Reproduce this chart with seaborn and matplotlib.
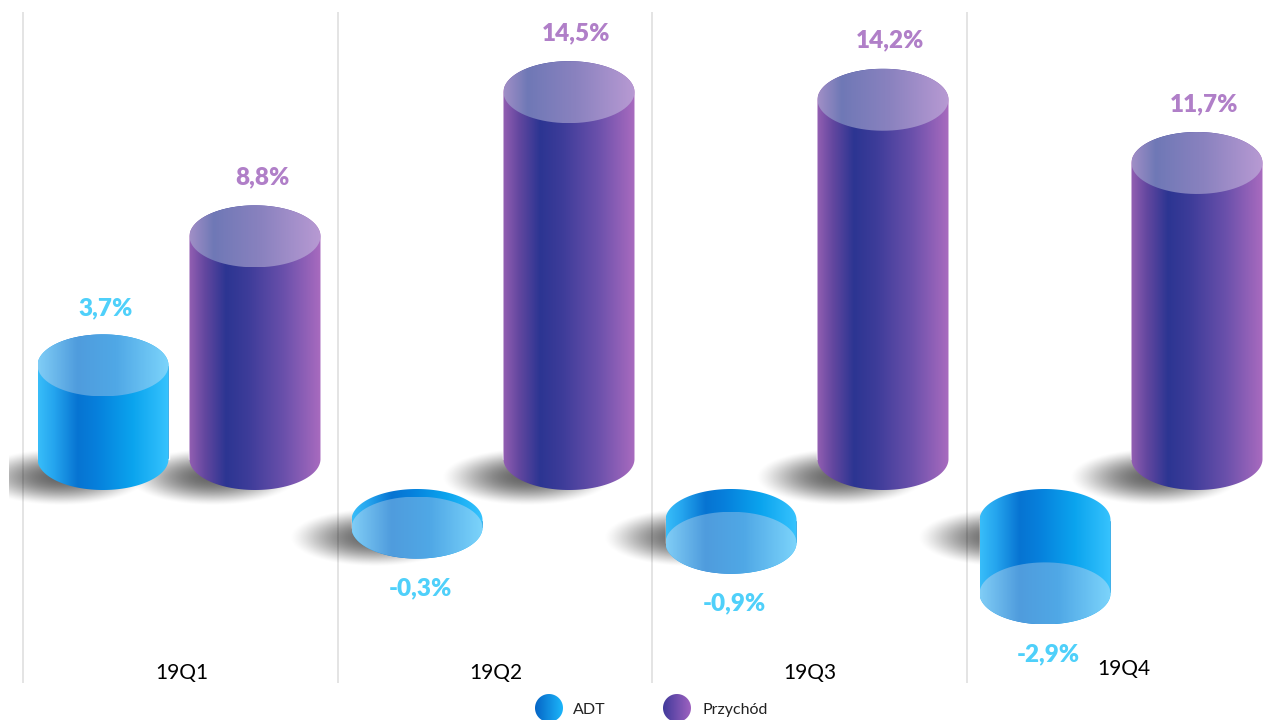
import numpy as np
import pandas as pd
import matplotlib
matplotlib.use('Agg')
import matplotlib.pyplot as plt
import seaborn as sns
from matplotlib.colors import LinearSegmentedColormap
from matplotlib.patches import Polygon

quarters = ['19Q1', '19Q2', '19Q3', '19Q4']
adt = [3.7, -0.3, -0.9, -2.9]
revenue = [8.8, 14.5, 14.2, 11.7]
series_names = ['ADT', 'Przychód']

df = pd.DataFrame({
    'quarter': quarters * 2,
    'series': [series_names[0]] * 4 + [series_names[1]] * 4,
    'value': adt + revenue,
})

# pixel scale of the picture: 314 px per quarter, 25.3 px per percentage point
PX_X = 1 / 314
PX_Y = 1 / 25.3
XMIN, XMAX = -179 * PX_X, (1271 - 179) * PX_X
YMIN, YMAX = -261 * PX_Y, 459 * PX_Y
CAP_RY = 31 * PX_Y
NEG_SHIFT = -61 * PX_Y  # negative cylinders hang lower than the positive ones

sns.set_theme(style='white')
plt.rcParams['font.family'] = ['Lato', 'DejaVu Sans']

body_cmaps = {
    'ADT': [(0, '#38bdf9'), (0.12, '#25a5ee'), (0.3, '#0774d2'), (0.45, '#0680dc'),
            (0.72, '#0ba4ee'), (1, '#38c4fe')],
    'Przychód': [(0, '#935fb2'), (0.12, '#63479f'), (0.28, '#2c3592'), (0.45, '#3d3c99'),
                 (0.72, '#6a50ab'), (1, '#a96bbf')],
}
cap_cmaps = {
    'ADT': [(0, '#80cdf6'), (0.3, '#4f9cdd'), (0.6, '#50a8e6'), (1, '#7cd4fb')],
    'Przychód': [(0, '#a08fc6'), (0.18, '#6f78b6'), (0.55, '#8a82bf'), (1, '#b89ad3')],
}
dot_cmaps = {
    'ADT': [(0, '#0565c6'), (1, '#1cb6fa')],
    'Przychód': [(0, '#413a9b'), (1, '#9e62c0')],
}
label_colors = {'ADT': '#4fd0fa', 'Przychód': '#b07fc8'}

fig = plt.figure(figsize=(12.71, 7.2), dpi=100)
ax = fig.add_axes([0, 0, 1, 1])

sns.barplot(
    data=df, x='quarter', y='value', hue='series', order=quarters, hue_order=series_names,
    palette={'ADT': '#0a8fe6', 'Przychód': '#4a439f'},
    width=0.968, gap=0.138, legend=False, ax=ax, zorder=3, errorbar=None,
)


def fill_gradient(points, stops, zorder):
    cmap = LinearSegmentedColormap.from_list('grad', stops)
    patch = Polygon(points, closed=True, facecolor='none', edgecolor='none', zorder=zorder)
    ax.add_patch(patch)
    x0, x1 = points[:, 0].min(), points[:, 0].max()
    y0, y1 = points[:, 1].min(), points[:, 1].max()
    im = ax.imshow(np.linspace(0, 1, 256).reshape(1, -1), extent=[x0, x1, y0, y1],
                   aspect='auto', cmap=cmap, zorder=zorder, interpolation='bilinear')
    im.set_clip_path(patch)


def arc(xc, rx, yc, ry, start, stop):
    t = np.linspace(start, stop, 80)
    return np.column_stack([xc + rx * np.cos(t), yc + ry * np.sin(t)])


def add_shadow(xc, rx, base):
    # soft grey smudge that sits left of and below the foot of the cylinder
    sx = xc - 42 * PX_X
    sy = base - 18 * PX_Y
    srx, sry = 86 * PX_X, 29 * PX_Y
    left = max(sx - srx, XMIN + 9 * PX_X)
    top = sy + sry
    xs = np.linspace(left, sx + srx, 200)
    ys = np.linspace(top, sy - sry, 80)
    gx, gy = np.meshgrid(xs, ys)
    d = np.clip(((gx - sx) / srx) ** 2 + ((gy - sy) / sry) ** 2, 0, 1)
    rgba = np.zeros(gx.shape + (4,))
    rgba[..., 3] = 0.6 * (1 - d) ** 1.5
    ax.imshow(rgba, extent=[left, sx + srx, sy - sry, top], origin='upper',
              aspect='auto', zorder=1, interpolation='bilinear')


for name, container, vals in zip(series_names, ax.containers, [adt, revenue]):
    for bar, val in zip(container, vals):
        rx = bar.get_width() / 2
        xc = bar.get_x() + rx
        base = NEG_SHIFT if val < 0 else 0
        if val < 0:
            bar.set_y(base)
        end = base + val
        add_shadow(xc, rx, base)

        upper, lower = max(base, end), min(base, end)
        outline = np.vstack([arc(xc, rx, upper, CAP_RY, np.pi, 0),
                             arc(xc, rx, lower, CAP_RY, 0, -np.pi)])
        fill_gradient(outline, body_cmaps[name], 3.5)
        cap = arc(xc, rx, end, CAP_RY, 0, 2 * np.pi)
        fill_gradient(cap, cap_cmaps[name], 4)

        shift_x = 3 if name == 'ADT' else 7
        if val >= 0:
            ly = end + CAP_RY + (26 if name == 'ADT' else 28) * PX_Y
        else:
            ly = end - CAP_RY - 30 * PX_Y
        ax.text(xc + shift_x * PX_X, ly, f'{val:.1f}%'.replace('.', ','), color=label_colors[name],
                fontsize=17.5, fontweight='heavy', ha='center', va='center', zorder=5)

# separators between the quarters
ax.vlines([-0.497, 0.505, 1.506, 2.509], -224 * PX_Y, 447 * PX_Y, color='#dddddd', lw=1.1, zorder=0)

for i, q in enumerate(quarters):
    y = -214 * PX_Y if q != '19Q4' else -210 * PX_Y
    ax.text(i + 3 * PX_X, y, q, color='black', fontsize=15, ha='center', va='center', zorder=5)

# legend built by hand because of the gradient dots
for name, xpx, text_px in zip(series_names, [549, 677], [589, 735]):
    cx = (xpx - 179) * PX_X
    dot = arc(cx, 14 * PX_X, -249 * PX_Y, 14 * PX_Y, 0, 2 * np.pi)
    fill_gradient(dot, dot_cmaps[name], 4)
    ax.text((text_px - 179) * PX_X, -251 * PX_Y, name, color='#222222', fontsize=11.5,
            ha='center', va='center')

ax.set_xlim(XMIN, XMAX)
ax.set_ylim(YMIN, YMAX)
ax.set_axis_off()

fig.savefig('out.png', dpi=100)
